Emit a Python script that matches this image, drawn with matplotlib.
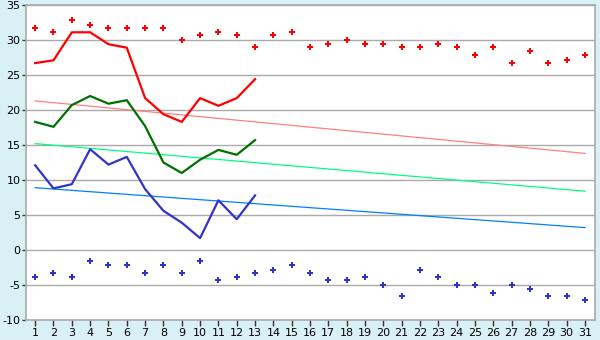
import matplotlib

matplotlib.use("Agg")
import matplotlib.pyplot as plt

plt.rcParams["axes.unicode_minus"] = False

DAYS = list(range(1, 32))

# observed daily values (first 13 days)
obs_days = list(range(1, 14))
tmax = [26.7, 27.1, 31.1, 31.1, 29.4, 28.9, 21.7, 19.4, 18.3, 21.7, 20.6, 21.7, 24.4]
tmean = [18.3, 17.6, 20.7, 22.0, 20.9, 21.4, 17.7, 12.5, 11.0, 12.9, 14.3, 13.6, 15.7]
tmin = [12.1, 8.8, 9.4, 14.4, 12.2, 13.3, 8.7, 5.6, 3.9, 1.7, 7.1, 4.4, 7.8]

# record highs / lows for each day of the month
rec_max = [31.7, 31.1, 32.8, 32.2, 31.7, 31.7, 31.7, 31.7, 30.0, 30.7,
           31.1, 30.7, 29.0, 30.7, 31.1, 29.0, 29.4, 30.0, 29.4, 29.4,
           29.0, 29.0, 29.4, 29.0, 27.8, 29.0, 26.7, 28.4, 26.7, 27.2, 27.8]
rec_min = [-3.9, -3.3, -3.9, -1.6, -2.2, -2.2, -3.3, -2.2, -3.3, -1.6,
           -4.3, -3.9, -3.3, -2.8, -2.2, -3.3, -4.3, -4.3, -3.9, -5.0,
           -6.6, -2.8, -3.9, -5.0, -5.0, -6.1, -5.0, -5.6, -6.6, -6.6, -7.2]

# normals: value on day 1 and on day 31 (straight lines)
norm_days = [1, 31]
norm_max = [21.3, 13.8]
norm_mean = [15.2, 8.4]
norm_min = [8.9, 3.2]

fig = plt.figure(figsize=(6, 3.4), dpi=100)
fig.patch.set_facecolor("#d9f0f7")
ax = fig.add_axes([26 / 600, 1 - 320 / 340, 569 / 600, 315 / 340])
ax.set_facecolor("white")

ax.plot(norm_days, norm_max, color="#ff8080", lw=0.9)
ax.plot(norm_days, norm_mean, color="#00ff80", lw=0.9)
ax.plot(norm_days, norm_min, color="#0080ff", lw=0.9)

ax.plot(obs_days, tmax, color="#ff0000", lw=1.6)
ax.plot(obs_days, tmean, color="#007000", lw=1.6)
ax.plot(obs_days, tmin, color="#3333cc", lw=1.6)

ax.plot(DAYS, rec_max, ls="none", marker="P", ms=5, color="#ff0000", mew=0)
ax.plot(DAYS, rec_min, ls="none", marker="P", ms=5, color="#3333cc", mew=0)

ax.set_xlim(0.5, 31.55)
ax.set_ylim(-10, 35)
ax.set_xticks(DAYS)
ax.set_yticks(range(-10, 36, 5))
ax.yaxis.grid(True, color="#aaaaaa", lw=1)
ax.set_axisbelow(True)
for side in ax.spines.values():
    side.set_color("#aaaaaa")
    side.set_linewidth(1.2)
ax.tick_params(axis="both", colors="#333333", labelcolor="black", labelsize=8,
               length=4, width=1, direction="out")
ax.tick_params(axis="y", pad=1, length=3)
ax.tick_params(axis="x", pad=2)

fig.savefig("out.png", dpi=100, facecolor=fig.get_facecolor())
